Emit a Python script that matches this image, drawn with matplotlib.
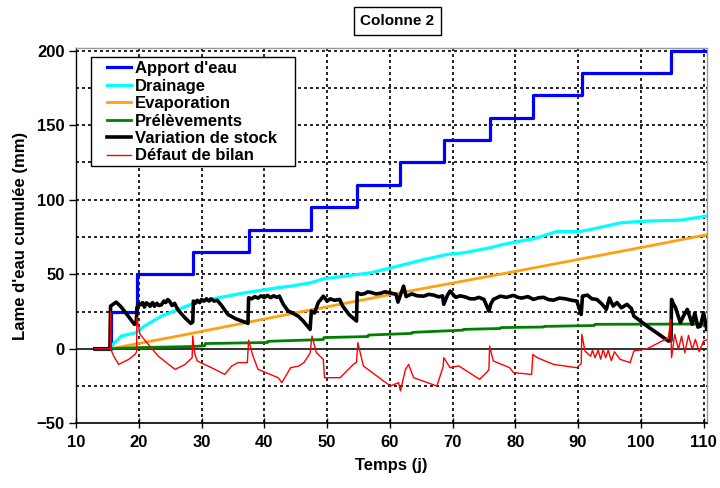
import matplotlib.pyplot as plt
from matplotlib.patches import Rectangle
import numpy as np

plt.rcParams['font.family'] = ['Liberation Sans', 'DejaVu Sans']
plt.rcParams['font.weight'] = 'bold'

# cumulative water inputs (irrigation days and totals, mm)
irrig_days = [15.5, 19.7, 28.6, 37.5, 47.4, 54.8, 61.7, 68.6, 75.9, 82.8, 90.7, 104.8]
irrig_totals = [25, 50, 65, 80, 95, 110, 125, 140, 155, 170, 185, 200]

drain_t = [13, 15.5, 15.9, 17.2, 19.6, 20.9, 23.6, 26.3, 29, 32.7, 37, 42.2, 44.2, 47.4,
           49.5, 57, 60.2, 65.5, 69.2, 71.8, 76, 77.6, 79.2, 83, 86.6, 90.3, 92, 96.8,
           100.5, 106.3, 110.5]
drain_v = [0, 0, 3, 8.5, 10.8, 15.2, 21.9, 26.4, 30.9, 34.2, 37.6, 41, 42, 44.3,
           47, 51, 54.3, 59.9, 63.3, 64.4, 67.8, 69.5, 71, 73.8, 78.7, 78.7, 80, 84.5,
           85.6, 86.3, 89]

evap_t = [13, 15.5, 26.2, 45.5, 60.3, 77.6, 99.9, 110.5]
evap_v = [0, 0, 8.5, 24.5, 36.5, 50, 67.8, 76.5]

prel_t = [13, 15.5, 20, 28.6, 30.5, 30.6, 40.5, 40.6, 49.4, 49.5, 56.5, 56.6, 63.5, 63.6,
          71.7, 71.8, 77.6, 77.7, 84.5, 84.6, 92.6, 92.7, 110.5]
prel_v = [0, 0, 0.8, 1.5, 2.0, 3.5, 4.2, 5.0, 6.2, 7.5, 8.2, 9.2, 10.3, 11.0,
          12.5, 13.0, 13.6, 14.2, 14.6, 15.0, 15.6, 16.4, 16.6]

stock_t = [13, 15.4, 15.5, 16.4, 17.2, 18.3, 19.3, 19.6, 19.7, 20.0, 20.3, 20.6, 20.9, 21.2,
           21.5, 21.8, 22.2, 22.5, 22.9, 23.2, 23.6, 24.0, 24.3, 24.6, 24.9, 25.3, 25.7, 26.2,
           27.3, 28.3, 28.6, 28.7, 29.0, 29.3, 29.7, 30, 30.4, 30.8, 31.2, 31.5, 32.0, 32.5,
           33.2, 34.2, 35.5, 36.9, 37.4, 37.5, 38.0, 38.5, 39.0, 39.5, 40.0, 40.5, 41.0, 41.5,
           42.0, 42.4, 43, 43.8, 44.2, 45.4, 46.2, 47.3, 47.5, 48, 48.6, 49.0, 49.4, 50,
           50.5, 51.2, 52, 52.5, 53.5, 54.7, 54.8, 55.4, 56, 56.5, 57, 57.8, 58.5, 59.2,
           60, 61, 61.3, 61.7, 62.2, 62.6, 63.5, 64.4, 65.4, 66.2, 67, 67.8, 68.4, 68.6,
           69.2, 69.6, 70.5, 71.2, 72, 72.8, 73.5, 74.2, 75, 75.8, 76.1, 76.5, 77.6, 78.6,
           79.7, 80.4, 81, 82, 82.9, 83.7, 84.5, 85.3, 86.1, 87, 88, 89, 89.8, 90.5,
           90.7, 91.5, 92.2, 93, 93.8, 94.5, 95, 95.6, 96.2, 96.9, 97.8, 98.5, 98.9, 101,
           104.4, 104.8, 104.9, 105.2, 105.5, 106.3, 106.8, 107.4, 108.2, 108.6, 109.1,
           109.5, 110, 110.5]
stock_v = [0, 0, 28.6, 31.3, 28, 22, 16.4, 17, 27.5, 30.5, 29.5, 31, 28, 30.8,
           30, 28.5, 31, 28.5, 30.5, 29, 29.5, 32, 31, 33, 32, 29, 30.5, 26.4,
           21, 17, 18, 32, 30.5, 32.5, 31, 33, 32, 33.5, 32, 33.5, 32, 32.5,
           29, 23, 20, 17.9, 17, 34.2, 33.5, 35, 34, 35.5, 34.3, 35.8, 34.3, 35.5,
           34.5, 35.3, 30, 25.3, 24.6, 21.9, 18.6, 13, 25.3, 24, 31, 33, 35.3, 32,
           33.5, 32.5, 33.1, 28.6, 23, 18.6, 37.6, 36.5, 37, 38.2, 37.8, 36.8, 37.2, 38.2,
           37.6, 36.5, 31.3, 36, 42, 35, 36.8, 35.5, 35.3, 36.5, 36, 34.8, 35.5, 29.8,
           36, 38.7, 34.5, 35.5, 34.8, 33.5, 33.5, 34.5, 33.1, 25.3, 30, 33.1, 35.3, 34.5,
           35.8, 34.5, 34, 35, 33.1, 34.2, 34.5, 33, 32.6, 34, 33.5, 32.5, 32, 23,
           35.3, 36, 33.5, 33.1, 30, 26.4, 34, 28.6, 31, 27.5, 29.8, 27, 21.9, 15.2,
           5.2, 5.5, 33.1, 30, 28, 17.5, 22, 26.4, 16.4, 24, 14.5,
           15.2, 24.2, 13]

defaut_t = [13, 15.45, 15.5, 15.6, 16, 16.8, 18.4, 19.4, 19.65, 19.7, 20.2, 21.5, 23.1, 24.3,
            25.8, 27.4, 28.5, 28.6, 28.9, 29.3, 31.6, 33.7, 34.8, 35.8, 37.3, 37.5, 38.2, 39,
            42.2, 42.8, 44.2, 45.5, 46.3, 47.3, 47.6, 48.3, 49.4, 49.6, 52.1, 54.2, 54.7, 54.9,
            55.8, 60.1, 61.4, 61.7, 62.5, 63, 63.8, 67.5, 68.5, 68.6, 69.6, 71, 74.3, 75.4,
            75.8, 75.9, 76.5, 79.1, 79.7, 82.6, 82.8, 83.5, 86.1, 89.8, 90.5, 90.6, 91.1, 92,
            92.3, 92.7, 93.2, 93.6, 94, 94.4, 94.8, 95.3, 95.8, 96.7, 98.3, 98.9, 101, 104.4,
            104.75, 104.9, 105.4, 106, 106.5, 107, 107.6, 108.2, 108.7, 109.3, 110, 110.5]
defaut_v = [0, 0, 25, -1, -4.9, -10.5, -7.1, -3.8, -2, 20.8, 9.7, 3, -4.9, -9,
            -13.8, -10.5, -6, 8.5, -3, -8.2, -12.7, -17.2, -11.6, -9.3, -9.3, 5.8, -4.9, -13.8,
            -19.4, -22.7, -12.7, -11.6, -9.3, -3, 8.5, -2.6, -7.1, -19.4, -19.4, -10.5, -9, 4.1,
            -11.6, -25, -22.7, -28.3, -13.8, -10.5, -19.4, -25, -12, -6, -12.7, -11.5, -20.5, -16,
            -14, 1.8, -8.2, -12.7, -16, -17.2, -3.8, -6, -10.5, -12.7, -10, 9.7, -1.5, -5,
            -1, -6, -1, -7, -0.5, -6, -1, -8, -2, -7.1, -9.3, -1.5, 0, 7.4,
            19.7, -6, 9.7, -0.4, 8.5, -2.6, 9, -0.5, 6.3, -2, 5.2, 6]

fig = plt.figure(figsize=(7.2, 4.88), dpi=100)
ax = fig.add_axes([0.1056, 0.1326, 0.8768, 0.7697])

ax.axhline(0, color='#222222', lw=1.3, zorder=1)

ax.step([13] + irrig_days + [110.5], [0] + irrig_totals + [200], where='post',
        color='#0000ff', lw=2.3, label="Apport d'eau", zorder=3)
ax.plot(drain_t, drain_v, color='#00ffff', lw=2.3, label='Drainage', zorder=3)
ax.plot(evap_t, evap_v, color='#ffa010', lw=2.0, label='Evaporation', zorder=3)
ax.plot(prel_t, prel_v, color='#008000', lw=2.0, label='Prélèvements', zorder=3)
ax.plot(stock_t, stock_v, color='black', lw=2.6, label='Variation de stock', zorder=4)
ax.plot(defaut_t, defaut_v, color='#ff0000', lw=1.0, label='Défaut de bilan', zorder=5)

ax.set_xlim(10, 110.6)
ax.set_ylim(-50, 202)
ax.set_xticks(np.arange(10, 111, 10))
ax.set_yticks(np.arange(-50, 201, 50))
ax.tick_params(axis='y', direction='out', length=5, width=1, labelsize=12, pad=3)
ax.tick_params(axis='x', direction='inout', length=7, width=1, labelsize=12, pad=5)

grid_style = dict(color='black', lw=1.2, linestyle=(0, (1.8, 1.8)))
for xv in range(20, 111, 10):
    ax.axvline(xv, zorder=0, **grid_style)
for yv in range(-25, 201, 25):
    if yv != 0:
        ax.axhline(yv, zorder=0, **grid_style)

for side in ['top', 'right']:
    ax.spines[side].set_color('#999999')
    ax.spines[side].set_linewidth(1)
ax.spines['left'].set_linewidth(1)
ax.spines['bottom'].set_linewidth(1.2)

ax.set_xlabel('Temps (j)', fontsize=12, fontweight='bold', labelpad=6)
ax.set_ylabel("Lame d'eau cumulée (mm)", fontsize=12, fontweight='bold', labelpad=6)

# legend box drawn separately so it can be wider than the entries
ax.add_patch(Rectangle((91 / 720, 1 - 166 / 488), 204 / 720, 109 / 488,
                       transform=fig.transFigure, fc='white', ec='black', lw=1,
                       zorder=9, clip_on=False))
leg = ax.legend(loc='upper left', bbox_to_anchor=(107 / 720, 1 - 61 / 488),
                bbox_transform=fig.transFigure, borderaxespad=0, borderpad=0,
                fontsize=12, handlelength=1.45, handletextpad=0.25, labelspacing=0.15,
                frameon=False)
leg.set_zorder(10)

fig.text(0.552, 0.957, 'Colonne 2', ha='center', va='center', fontsize=11, fontweight='bold',
         bbox=dict(boxstyle='square,pad=0.45', fc='white', ec='black', lw=1))

fig.savefig('out.png', dpi=100)
